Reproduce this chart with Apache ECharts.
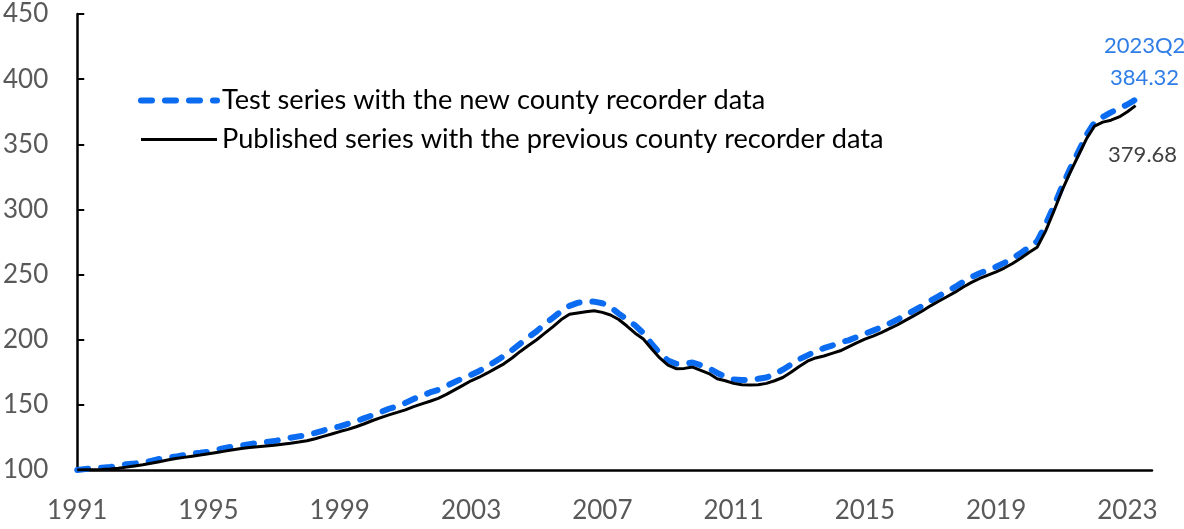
<!DOCTYPE html>
<html>
<head>
<meta charset="utf-8">
<script src="https://cdn.jsdelivr.net/npm/echarts@6/dist/echarts.min.js"></script>
<style>
  html, body { margin: 0; padding: 0; background: #fff; }
  #chart { width: 1184px; height: 529px; }
</style>
</head>
<body>
<div id="chart"></div>
<script>
// Quarterly categories 1991Q1 .. 2023Q4 (data ends at 2023Q2)
const startYear = 1991;
const endYear = 2023;
const categories = [];
for (let y = startYear; y <= endYear; y++) {
  for (let q = 1; q <= 4; q++) categories.push(y + 'Q' + q);
}

const testSeriesName = 'Test series with the new county recorder data';
const publishedSeriesName = 'Published series with the previous county recorder data';

// Test series (new county recorder data), 1991Q1..2023Q2
const testValues = [
  100.0, 100.8, 101.5, 101.8, 102.3, 103.3, 104.5, 105.0,
  105.6, 107.0, 108.5, 109.5, 110.3, 111.5, 112.5, 113.2,
  114.0, 115.5, 117.0, 118.0, 118.8, 119.8, 120.8, 121.5,
  122.2, 123.5, 124.8, 125.8, 126.8, 128.5, 130.3, 132.0,
  133.5, 135.5, 137.5, 139.8, 142.0, 144.5, 147.0, 149.0,
  151.5, 154.5, 157.0, 159.5, 161.5, 164.5, 167.5, 170.5,
  173.0, 176.0, 179.5, 183.5, 187.5, 192.0, 197.0, 202.0,
  206.5, 212.0, 217.0, 222.0, 226.0, 228.3, 229.5, 229.2,
  228.0, 225.0, 220.0, 215.5, 211.0, 205.0, 197.0, 189.5,
  184.0, 181.5, 181.5, 182.5, 180.5, 178.0, 174.5, 171.5,
  169.5, 169.0, 169.2, 170.0, 171.0, 173.5, 177.0, 181.0,
  185.0, 188.0, 191.0, 193.5, 195.5, 198.0, 199.5, 202.0,
  204.5, 207.0, 209.5, 212.5, 215.5, 219.0, 222.5, 226.0,
  230.0, 233.5, 237.0, 240.5, 244.5, 248.0, 251.0, 253.5,
  256.0, 259.0, 262.5, 266.5, 271.0, 275.5, 288.0, 302.0,
  317.0, 331.0, 344.0, 357.0, 367.0, 371.0, 374.5, 377.5,
  380.5, 384.32
];

// Published series (previous county recorder data), 1991Q1..2023Q2
const publishedValues = [
  100.0, 100.1, 100.2, 100.4, 100.8, 101.4, 102.2, 103.1,
  104.0, 105.2, 106.4, 107.6, 108.8, 109.7, 110.6, 111.5,
  112.5, 113.5, 114.5, 115.5, 116.5, 117.2, 117.8, 118.4,
  119.0, 119.8, 120.6, 121.5, 122.5, 124.0, 125.8, 127.6,
  129.5, 131.2, 133.2, 135.5, 138.0, 140.2, 142.3, 144.2,
  146.2, 148.6, 150.8, 152.8, 155.0, 158.0, 161.5, 165.0,
  168.5, 171.2, 174.5, 178.0, 181.5, 186.0, 191.0, 195.5,
  200.0, 205.0, 210.0, 215.5, 219.5, 220.5, 221.5, 222.3,
  221.0, 219.0, 215.5, 210.5, 205.0, 200.5, 193.0, 186.0,
  180.5, 177.8, 178.0, 179.0, 176.5, 174.0, 170.0, 168.5,
  166.5, 165.5, 165.3, 165.5, 166.5, 168.5, 171.0, 175.0,
  179.5, 183.5, 186.0, 187.5, 189.5, 191.5, 194.5, 197.5,
  200.5, 202.8, 205.5, 208.5, 211.5, 215.0, 218.5, 222.0,
  226.0, 229.5, 233.0, 236.5, 240.5, 244.0, 247.0, 249.5,
  252.0, 255.0, 258.5, 262.5, 267.0, 271.0, 283.0, 298.0,
  314.0, 328.0, 341.0, 354.0, 364.0, 367.0, 368.5, 371.0,
  375.0, 379.68
];

const yMin = 100, yMax = 450, yStep = 50;
const labelEvery = 16; // one label every 4 years (Q1)

const FONT = 'Lato, "Open Sans", "Liberation Sans", sans-serif';
const BLUE = '#0b6cf2';
const BLUE_TEXT = '#2f7de6';

const lastIdx = testValues.length - 1;
const lastCategory = categories[lastIdx];
const lastTest = testValues[lastIdx];
const lastPublished = publishedValues[publishedValues.length - 1];

const blueLine = { color: BLUE, width: 6, type: [11, 13], cap: 'round' };
const blackLine = { color: '#000000', width: 3, type: 'solid' };

const chart = echarts.init(document.getElementById('chart'), null, { renderer: 'canvas' });

chart.setOption({
  animation: false,
  backgroundColor: '#ffffff',
  grid: { left: 75, right: 32, top: 14, bottom: 59, containLabel: false },
  legend: {
    orient: 'vertical',
    left: 133,
    top: 82,
    padding: 5,
    itemWidth: 76,
    itemHeight: 20,
    itemGap: 12,
    itemStyle: { color: 'rgba(0,0,0,0)', borderColor: 'rgba(0,0,0,0)', borderWidth: 0 },
    data: [
      { name: testSeriesName, lineStyle: blueLine },
      { name: publishedSeriesName, lineStyle: blackLine }
    ],
    textStyle: { fontFamily: FONT, fontSize: 27.2, color: '#000000' }
  },
  xAxis: {
    type: 'category',
    data: categories,
    boundaryGap: false,
    axisLine: { show: true, lineStyle: { color: '#000000', width: 2.5 } },
    axisTick: { show: false },
    splitLine: { show: false },
    axisLabel: {
      interval: (idx) => idx % labelEvery === 0,
      formatter: (val) => val.slice(0, 4),
      fontFamily: FONT,
      fontSize: 26,
      color: '#595959',
      margin: 28
    }
  },
  yAxis: {
    type: 'value',
    min: yMin,
    max: yMax,
    interval: yStep,
    axisLine: { show: true, lineStyle: { color: '#000000', width: 2.5 } },
    axisTick: { show: true, inside: true, length: 7, lineStyle: { color: '#000000', width: 2 } },
    splitLine: { show: false },
    axisLabel: {
      fontFamily: FONT,
      fontSize: 26,
      color: '#595959',
      margin: 29
    }
  },
  series: [
    {
      name: testSeriesName,
      type: 'line',
      symbol: 'none',
      smooth: false,
      z: 2,
      lineStyle: blueLine,
      itemStyle: { color: BLUE },
      data: testValues,
      markPoint: {
        symbol: 'circle',
        symbolSize: 0,
        silent: true,
        data: [{
          coord: [lastCategory, lastTest],
          label: {
            show: true,
            position: 'top',
            distance: 6,
            offset: [9, 0],
            formatter: lastCategory + '\n' + lastTest.toFixed(2),
            fontFamily: FONT,
            fontSize: 22,
            lineHeight: 32,
            color: BLUE_TEXT,
            align: 'center'
          }
        }]
      }
    },
    {
      name: publishedSeriesName,
      type: 'line',
      symbol: 'none',
      smooth: false,
      z: 3,
      lineStyle: blackLine,
      itemStyle: { color: '#000000' },
      data: publishedValues,
      markPoint: {
        symbol: 'circle',
        symbolSize: 0,
        silent: true,
        data: [{
          coord: [lastCategory, lastPublished],
          label: {
            show: true,
            position: 'bottom',
            distance: 38,
            offset: [7, 0],
            formatter: lastPublished.toFixed(2),
            fontFamily: FONT,
            fontSize: 22,
            color: '#404040',
            align: 'center'
          }
        }]
      }
    }
  ]
});
</script>
</body>
</html>
